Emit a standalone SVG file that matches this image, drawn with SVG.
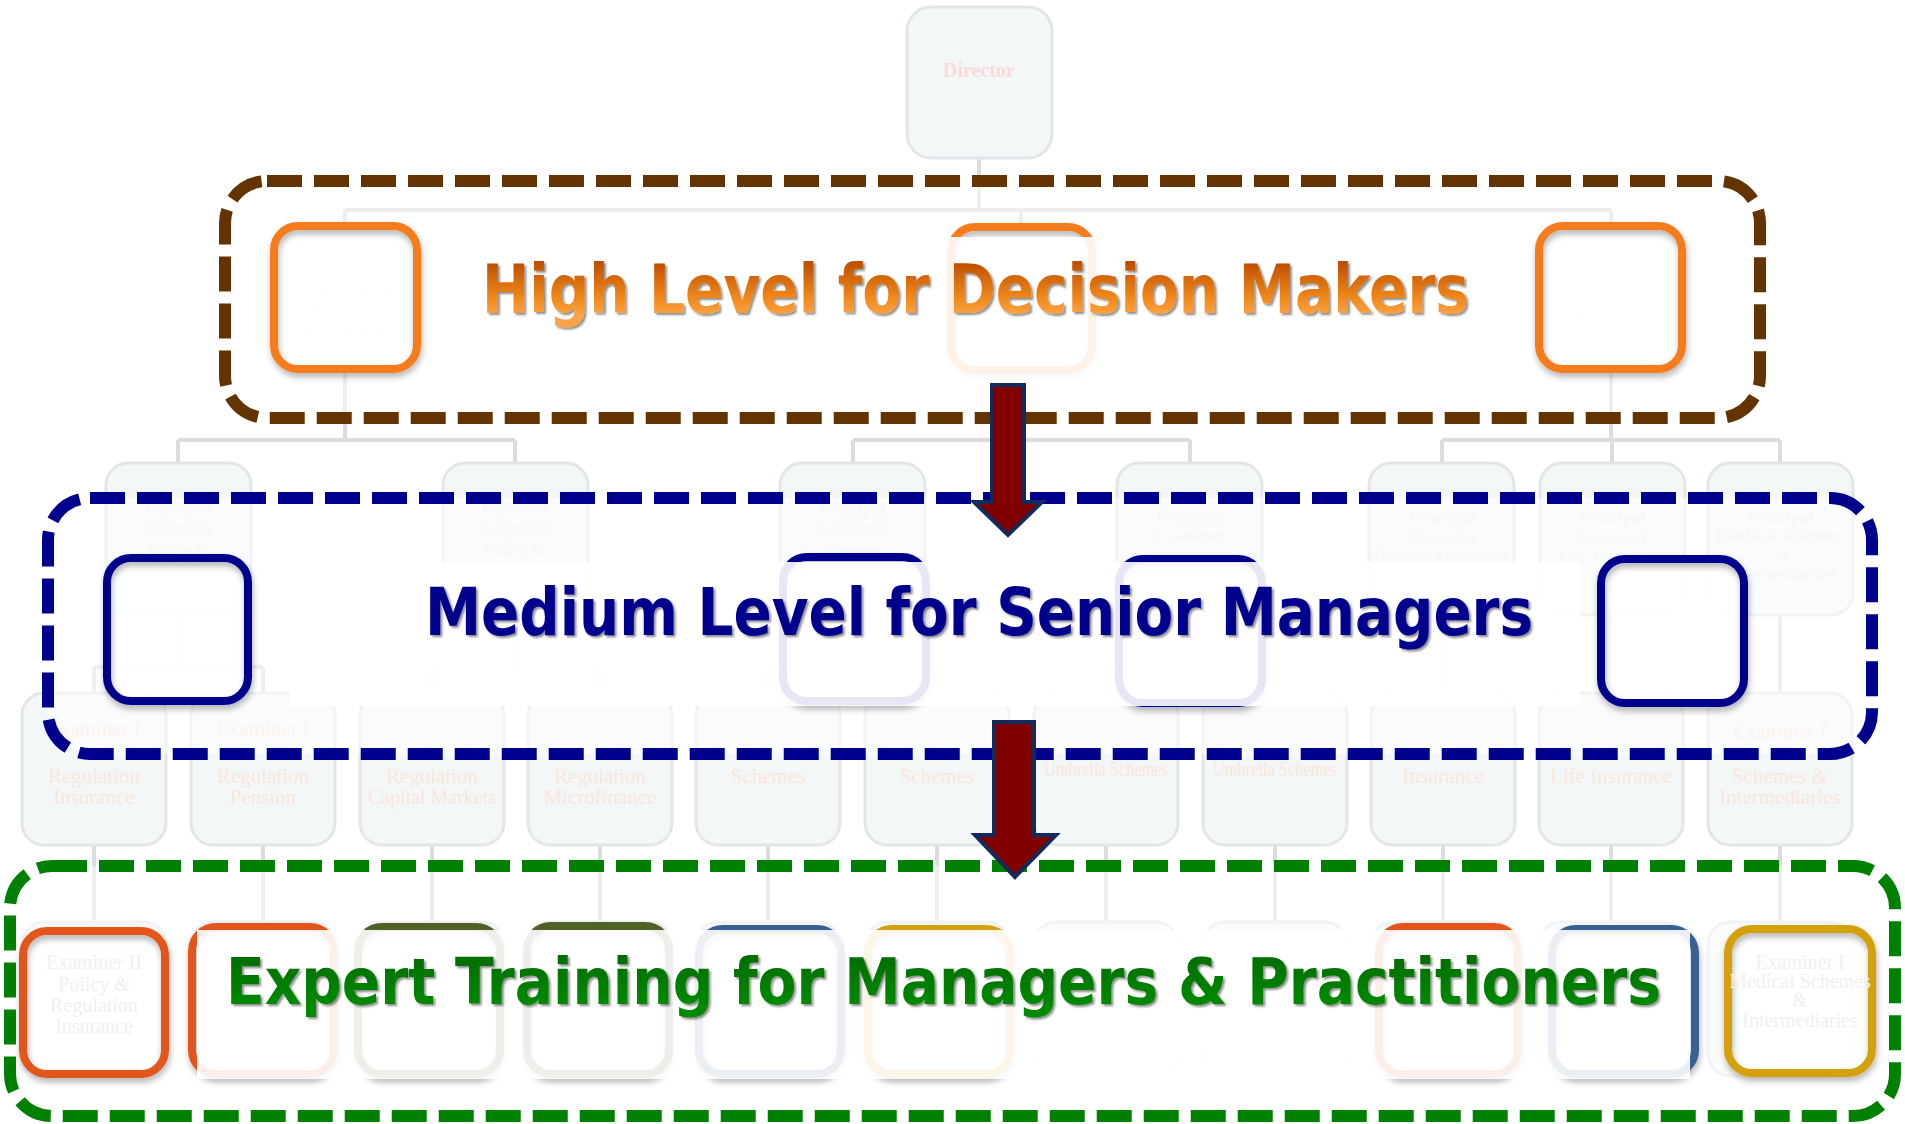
<svg xmlns="http://www.w3.org/2000/svg" width="1905" height="1124" viewBox="0 0 1905 1124">
<style>
.box{fill:#f3f7f8;stroke:#e3e6e8;stroke-width:3}
.conn{stroke:#dcdcdc;stroke-width:4;fill:none}
.dir{font:bold 20px "Liberation Serif",serif;fill:#fcdada;text-anchor:middle}
.t2{font:bold 17px "Liberation Serif",serif;fill:#f1f3f4;text-anchor:middle}
.t3{font:bold 17px "Liberation Serif",serif;fill:#edf0f1;text-anchor:middle}
.t4{font:21px "Liberation Serif",serif;fill:#fbe6da;text-anchor:middle}
.t5{font:20px "Liberation Serif",serif;fill:#f0f0f0;text-anchor:middle}
.ff{fill:#fff;fill-opacity:0.85;stroke:none}
.fr{stroke-width:8;fill:none}
.dash{fill:none;stroke-width:12;stroke-dasharray:35 12}
.dfill{fill:#fff;fill-opacity:0.5;stroke:none}
.ov{fill:#fff;fill-opacity:0.9}
.title{font-family:"DejaVu Sans Condensed","DejaVu Sans",Verdana,sans-serif;font-weight:bold}
.arrow{fill:#800000;stroke:#132b5c;stroke-width:4;stroke-linejoin:miter}
</style>
<defs>
<filter id="fs" x="-20%" y="-20%" width="140%" height="140%"><feDropShadow dx="1" dy="4" stdDeviation="3" flood-color="#000" flood-opacity="0.3"/></filter>
<filter id="ts" x="-5%" y="-20%" width="110%" height="140%"><feDropShadow dx="2" dy="2" stdDeviation="1" flood-color="#000" flood-opacity="0.45"/></filter>
<linearGradient id="og" gradientUnits="userSpaceOnUse" x1="0" y1="262" x2="0" y2="315"><stop offset="0" stop-color="#bd4e00"/><stop offset="0.7" stop-color="#f28a1c"/><stop offset="1" stop-color="#f9a447"/></linearGradient>
<linearGradient id="gg" gradientUnits="userSpaceOnUse" x1="0" y1="955" x2="0" y2="1006"><stop offset="0" stop-color="#006c00"/><stop offset="1" stop-color="#008a00"/></linearGradient>
</defs>
<rect width="1905" height="1124" fill="#fff"/>

<g id="connectors" class="conn">
<path d="M979 158V210M345 210H1611M345 210V226M1021 210V226M1611 210V226M345 369V440M1021 369V440M1611 369V440M178 440H515M853 440H1190M1442 440H1780M178 440V463M515 440V463M853 440V463M1190 440V463M1442 440V463M1612 440V463M1780 440V463M178 615V667M515 615V667M853 615V667M1190 615V667M94 667H263M432 667H600M768 667H937M1106 667H1275M94 667V693M263 667V693M432 667V693M600 667V693M768 667V693M937 667V693M1106 667V693M1275 667V693M1443 615V693M1611 615V693M1780 615V693M94 845V922M263 845V922M432 845V922M600 845V922M768 845V922M937 845V922M1106 845V922M1275 845V922M1443 845V922M1611 845V922M1780 845V922"/>
</g>

<g id="director"><rect class="box" x="907" y="7" width="145" height="151" rx="24"/><text class="dir" x="979" y="77">Director</text></g>

<g id="ce-policy"><rect class="box" x="274" y="226" width="143" height="143" rx="22"/><text class="t2" x="345" y="296">Chief Examiner</text><text class="t2" x="345" y="316">Policy &amp;</text><text class="t2" x="345" y="336">Regulation</text></g>
<g id="ce-middle"><rect class="box" x="951" y="227" width="141" height="143" rx="22"/></g>
<g id="ce-insurance"><rect class="box" x="1539" y="226" width="143" height="143" rx="22"/><text class="t2" x="1610" y="303">Chief Examiner</text><text class="t2" x="1610" y="323">Insurance</text></g>

<g id="pe1"><rect class="box" x="106" y="463" width="145" height="152" rx="22"/><text class="t3" x="178" y="513">Principal</text><text class="t3" x="178" y="534">Examiner</text><text class="t3" x="178" y="555">Policy &amp;</text><text class="t3" x="178" y="576">Regulation</text><text class="t3" x="178" y="597">(EA)</text></g>
<g id="pe2"><rect class="box" x="443" y="463" width="145" height="152" rx="22"/><text class="t3" x="515" y="513">Principal</text><text class="t3" x="515" y="534">Examiner</text><text class="t3" x="515" y="555">Policy &amp;</text></g>
<g id="pe3"><rect class="box" x="780" y="463" width="145" height="152" rx="22"/><text class="t3" x="852" y="514">Principal</text><text class="t3" x="852" y="534">Examiner</text><text class="t3" x="852" y="554">Pension</text></g>
<g id="pe4"><rect class="box" x="1117" y="463" width="145" height="152" rx="22"/><text class="t3" x="1190" y="522">Principal</text><text class="t3" x="1190" y="541">Examiner</text></g>
<g id="pe5"><rect class="box" x="1369" y="463" width="145" height="152" rx="22"/><text class="t3" x="1442" y="523">Principal</text><text class="t3" x="1442" y="543">Examiner</text><text class="t3" x="1442" y="561">General Insurance</text></g>
<g id="pe6"><rect class="box" x="1540" y="463" width="145" height="152" rx="22"/><text class="t3" x="1612" y="523">Principal</text><text class="t3" x="1612" y="543">Examiner</text><text class="t3" x="1612" y="561">Life Insurance</text></g>
<g id="pe7"><rect class="box" x="1708" y="463" width="145" height="152" rx="22"/><text class="t3" x="1780" y="523">Principal</text><text class="t3" x="1780" y="541">Medical Schemes</text><text class="t3" x="1780" y="561">&amp;</text><text class="t3" x="1780" y="579">Intermediaries</text></g>

<g id="ex1"><rect class="box" x="22" y="693" width="144" height="152" rx="22"/><text class="t4" x="94" y="736">Examiner I</text><text class="t4" x="94" y="783">Regulation</text><text class="t4" x="94" y="804">Insurance</text></g>
<g id="ex2"><rect class="box" x="191" y="693" width="144" height="152" rx="22"/><text class="t4" x="263" y="736">Examiner I</text><text class="t4" x="263" y="783">Regulation</text><text class="t4" x="263" y="804">Pension</text></g>
<g id="ex3"><rect class="box" x="360" y="693" width="144" height="152" rx="22"/><text class="t4" x="432" y="783">Regulation</text><text class="t4" x="432" y="804" textLength="128" lengthAdjust="spacingAndGlyphs">Capital Markets</text></g>
<g id="ex4"><rect class="box" x="528" y="693" width="144" height="152" rx="22"/><text class="t4" x="600" y="783">Regulation</text><text class="t4" x="600" y="804">Microfinance</text></g>
<g id="ex5"><rect class="box" x="696" y="693" width="144" height="152" rx="22"/><text class="t4" x="768" y="783">Schemes</text></g>
<g id="ex6"><rect class="box" x="865" y="693" width="144" height="152" rx="22"/><text class="t4" x="937" y="783">Schemes</text></g>
<g id="ex7"><rect class="box" x="1034" y="693" width="144" height="152" rx="22"/><text class="t4" x="1106" y="776" textLength="124" lengthAdjust="spacingAndGlyphs">Umbrella Schemes</text></g>
<g id="ex8"><rect class="box" x="1203" y="693" width="144" height="152" rx="22"/><text class="t4" x="1275" y="776" textLength="124" lengthAdjust="spacingAndGlyphs">Umbrella Schemes</text></g>
<g id="ex9"><rect class="box" x="1371" y="693" width="144" height="152" rx="22"/><text class="t4" x="1443" y="783">Insurance</text></g>
<g id="ex10"><rect class="box" x="1539" y="693" width="144" height="152" rx="22"/><text class="t4" x="1611" y="783">Life Insurance</text></g>
<g id="ex11"><rect class="box" x="1708" y="693" width="144" height="152" rx="22"/><text class="t4" x="1780" y="738">Examiner I</text><text class="t4" x="1780" y="783">Schemes &amp;</text><text class="t4" x="1780" y="804">Intermediaries</text></g>

<g id="e2-1"><rect class="box" x="22" y="922" width="144" height="154" rx="22"/></g>
<g id="e2-2"><rect class="box" x="191" y="922" width="144" height="154" rx="22"/></g>
<g id="e2-3"><rect class="box" x="360" y="922" width="144" height="154" rx="22"/></g>
<g id="e2-4"><rect class="box" x="528" y="922" width="144" height="154" rx="22"/></g>
<g id="e2-5"><rect class="box" x="696" y="922" width="144" height="154" rx="22"/></g>
<g id="e2-6"><rect class="box" x="865" y="922" width="144" height="154" rx="22"/></g>
<g id="e2-7"><rect class="box" x="1034" y="922" width="144" height="154" rx="22"/></g>
<g id="e2-8"><rect class="box" x="1203" y="922" width="144" height="154" rx="22"/></g>
<g id="e2-9"><rect class="box" x="1371" y="922" width="144" height="154" rx="22"/></g>
<g id="e2-10"><rect class="box" x="1539" y="922" width="144" height="154" rx="22"/></g>
<g id="e2-11"><rect class="box" x="1708" y="922" width="144" height="154" rx="22"/></g>

<g id="band-fills">
<rect class="dfill" x="225" y="181" width="1535" height="237" rx="42"/>
<rect class="dfill" x="48" y="498" width="1824" height="256" rx="42"/>
<rect class="dfill" x="10" y="866" width="1885" height="250" rx="42"/>
</g>

<g id="covered-frames">
<g class="ff">
<rect x="951" y="227" width="141" height="143" rx="24"/>
<rect x="783" y="557" width="143" height="144" rx="24"/>
<rect x="1119" y="559" width="143" height="144" rx="24"/>
<rect x="192" y="927" width="142" height="147" rx="24"/>
<rect x="358" y="927" width="142" height="147" rx="24"/>
<rect x="527" y="926" width="142" height="148" rx="24"/>
<rect x="699" y="929" width="142" height="145" rx="24"/>
<rect x="868" y="929" width="142" height="145" rx="24"/>
<rect x="1379" y="927" width="139" height="147" rx="24"/>
<rect x="1552" y="929" width="143" height="145" rx="24"/>
</g>
<g filter="url(#fs)">
<rect class="fr" x="951" y="227" width="141" height="143" rx="24" stroke="#f47c1c"/>
<rect class="fr" x="783" y="557" width="143" height="144" rx="24" stroke="#00008c"/>
<rect class="fr" x="1119" y="559" width="143" height="144" rx="24" stroke="#00008c"/>
<rect class="fr" x="192" y="927" width="142" height="147" rx="24" stroke="#e2571e"/>
<rect class="fr" x="358" y="927" width="142" height="147" rx="24" stroke="#4f6228"/>
<rect class="fr" x="527" y="926" width="142" height="148" rx="24" stroke="#4f6228"/>
<rect class="fr" x="699" y="929" width="142" height="145" rx="24" stroke="#376092"/>
<rect class="fr" x="868" y="929" width="142" height="145" rx="24" stroke="#d4a10a"/>
<rect class="fr" x="1379" y="927" width="139" height="147" rx="24" stroke="#e2571e"/>
<rect class="fr" x="1552" y="929" width="143" height="145" rx="24" stroke="#376092"/>
</g>
</g>

<g id="title-backs">
<rect class="ov" x="432" y="237" width="1090" height="165"/>
<rect class="ov" x="290" y="562" width="1290" height="144"/>
<rect class="ov" x="197" y="930" width="1493" height="149"/>
</g>

<g id="frames">
<g class="ff">
<rect x="274" y="226" width="143" height="143" rx="24"/>
<rect x="1539" y="226" width="143" height="143" rx="24"/>
<rect x="107" y="558" width="141" height="143" rx="24"/>
<rect x="1601" y="559" width="143" height="144" rx="24"/>
<rect x="23" y="931" width="142" height="143" rx="24"/>
<rect x="1728" y="929" width="144" height="144" rx="24"/>
</g>
<g filter="url(#fs)">
<rect class="fr" x="274" y="226" width="143" height="143" rx="24" stroke="#f47c1c"/>
<rect class="fr" x="1539" y="226" width="143" height="143" rx="24" stroke="#f47c1c"/>
<rect class="fr" x="107" y="558" width="141" height="143" rx="24" stroke="#00008c"/>
<rect class="fr" x="1601" y="559" width="143" height="144" rx="24" stroke="#00008c"/>
<rect class="fr" x="23" y="931" width="142" height="143" rx="24" stroke="#e2571e"/>
<rect class="fr" x="1728" y="929" width="144" height="144" rx="24" stroke="#d4a10a"/>
</g>
</g>
<g id="frame-texts">
<text class="t5" x="94" y="969">Examiner II</text><text class="t5" x="94" y="991">Policy &amp;</text><text class="t5" x="94" y="1012">Regulation</text><text class="t5" x="94" y="1033">Insurance</text>
<text class="t5" x="1800" y="969">Examiner I</text><text class="t5" x="1800" y="988">Medical Schemes</text><text class="t5" x="1800" y="1007">&amp;</text><text class="t5" x="1800" y="1027">Intermediaries</text>
</g>

<g id="band-high"><rect class="dash" x="225" y="181" width="1535" height="237" rx="42" stroke="#633300"/></g>
<g id="band-medium"><rect class="dash" x="48" y="498" width="1824" height="256" rx="42" stroke="#00008c"/></g>
<g id="band-expert"><rect class="dash" x="10" y="866" width="1885" height="250" rx="42" stroke="#008000"/></g>

<g id="arrows">
<path class="arrow" d="M992 385H1024V502H1042L1008 535L974 502H992Z"/>
<path class="arrow" d="M994 722H1034V835H1056L1015 877L975 835H994Z"/>
</g>

<g id="titles" class="title">
<text x="482" y="313" font-size="67" textLength="987" lengthAdjust="spacingAndGlyphs" fill="url(#og)" filter="url(#ts)">High Level for Decision Makers</text>
<text x="425" y="635" font-size="65" textLength="1108" lengthAdjust="spacingAndGlyphs" fill="#00008c" filter="url(#ts)">Medium Level for Senior Managers</text>
<text x="226" y="1004" font-size="64" textLength="1435" lengthAdjust="spacingAndGlyphs" fill="url(#gg)" filter="url(#ts)">Expert Training for Managers &amp; Practitioners</text>
</g>
</svg>
